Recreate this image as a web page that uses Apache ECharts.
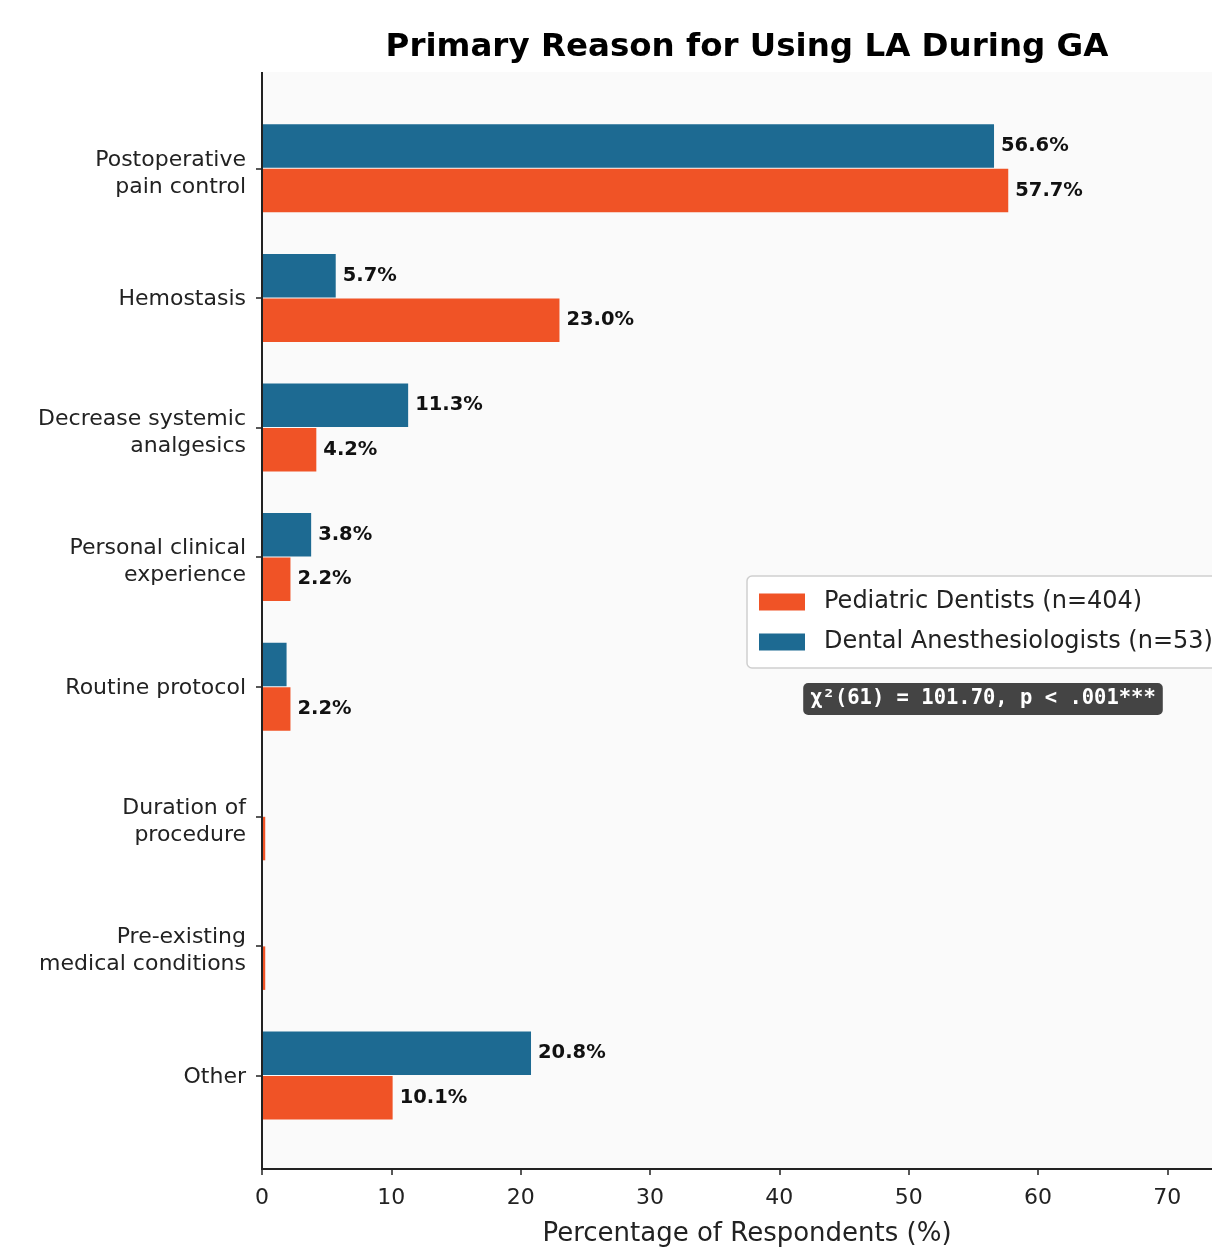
<!DOCTYPE html>
<html><head><meta charset="utf-8">
<script src="https://cdn.jsdelivr.net/npm/echarts@6/dist/echarts.min.js"></script>
<style>html,body{margin:0;padding:0;background:#fff}#c{width:1212px;height:1248px}</style>
</head><body><div id="c"></div>
<script>
const categories = ['Postoperative\npain control','Hemostasis','Decrease systemic\nanalgesics','Personal clinical\nexperience','Routine protocol','Duration of\nprocedure','Pre-existing\nmedical conditions','Other'];
const dentalAnesthesiologists = [56.6, 5.7, 11.3, 3.8, 1.9, 0, 0, 20.8];
const pediatricDentists = [57.7, 23.0, 4.2, 2.2, 2.2, 0.25, 0.25, 10.1];
const xTickLabels = [0, 10, 20, 30, 40, 50, 60, 70];
const seriesNames = ['Pediatric Dentists (n=404)', 'Dental Anesthesiologists (n=53)'];
const titleText = 'Primary Reason for Using LA During GA';
const xAxisTitle = 'Percentage of Respondents (%)';
const statText = 'χ²(61) = 101.70, p < .001***';

const BLUE = '#1d6a92', ORANGE = '#f05326', INK = '#222';
const FONT = 'DejaVu Sans';
const chart = echarts.init(document.getElementById('c'), null, {renderer: 'canvas'});
const barLabel = {
  show: true, position: 'right', distance: 7,
  fontFamily: FONT, fontWeight: 'bold', fontSize: 19.5, color: '#111',
  formatter: p => p.value >= 2 ? p.value.toFixed(1) + '%' : ''
};
chart.setOption({
  animation: false,
  backgroundColor: '#fff',
  grid: {left: 262, width: 970, top: 103.5, bottom: 107.7, containLabel: false, outerBoundsMode: 'none'},
  xAxis: {
    type: 'value', min: 0, max: 75, interval: 10, offset: 28.7,
    name: xAxisTitle, nameLocation: 'middle', nameGap: 52,
    nameTextStyle: {fontFamily: FONT, fontSize: 26, color: INK},
    axisLine: {show: true, lineStyle: {color: INK, width: 2}},
    axisTick: {show: true, length: 6, lineStyle: {color: INK, width: 1.5}},
    axisLabel: {
      fontFamily: FONT, fontSize: 22, color: INK, margin: 18,
      formatter: v => xTickLabels.indexOf(v) >= 0 ? String(v) : ''
    },
    splitLine: {show: false}
  },
  yAxis: {
    type: 'category', data: categories, inverse: true,
    axisLine: {show: false},
    axisTick: {show: true, alignWithLabel: true, length: 6, lineStyle: {color: INK, width: 1.5}},
    axisLabel: {
      fontFamily: FONT, fontSize: 22, color: INK, margin: 16, lineHeight: 27, align: 'right',
      formatter: v => {
        const lines = v.split('\n');
        const spacer = lines.length > 1 ? '{big| }' : '{small| }';
        return spacer + '\n' + lines.map(l => '{t|' + l + '}').join('\n');
      },
      rich: {
        t: {fontFamily: FONT, fontSize: 22, color: INK, lineHeight: 27, align: 'right'},
        big: {fontSize: 1, lineHeight: 10, align: 'right'},
        small: {fontSize: 1, lineHeight: 3, align: 'right'}
      }
    },
    splitLine: {show: false}
  },
  legend: {
    orient: 'vertical', left: 747, top: 576,
    data: seriesNames,
    itemWidth: 46, itemHeight: 17, itemGap: 6,
    padding: [9, 12, 9, 12],
    backgroundColor: 'rgba(255,255,255,0.85)', borderColor: '#cfcfcf', borderWidth: 1.5, borderRadius: 5,
    textStyle: {fontFamily: FONT, fontSize: 24, color: INK, lineHeight: 28, padding: [6, 0, 0, 14]},
    icon: 'rect'
  },
  graphic: [
    {type: 'rect', z: -10, silent: true, shape: {x: 262, y: 72, width: 980, height: 1097}, style: {fill: '#fafafa'}},
    {type: 'line', z: 100, silent: true, shape: {x1: 262, y1: 72, x2: 262, y2: 1170}, style: {stroke: INK, lineWidth: 2}},
    {type: 'text', z: 100, x: 747, y: 48, style: {text: titleText, fontFamily: FONT, fontWeight: 'bold', fontSize: 32.5, fill: '#000', align: 'center', verticalAlign: 'middle'}},
    {type: 'text', z: 100, x: 983, y: 699, style: {text: statText, fontFamily: 'DejaVu Sans Mono', fontWeight: 'bold', fontSize: 20.5, fill: '#fff', align: 'center', verticalAlign: 'middle', backgroundColor: '#444', padding: [6, 7, 5, 7], borderRadius: 5}}
  ],
  series: [
    {name: seriesNames[1], type: 'bar', data: dentalAnesthesiologists, barWidth: 43.5, barGap: '2.3%',
     itemStyle: {color: BLUE}, label: barLabel},
    {name: seriesNames[0], type: 'bar', data: pediatricDentists, barWidth: 43.5, barGap: '2.3%',
     itemStyle: {color: ORANGE}, label: barLabel}
  ]
});
</script></body></html>
